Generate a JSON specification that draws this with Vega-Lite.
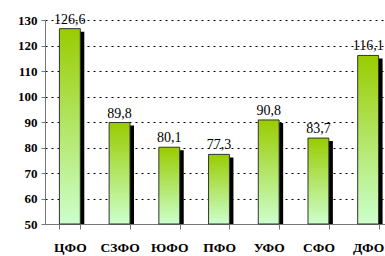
{
  "$schema": "https://vega.github.io/schema/vega-lite/v6.json",
  "autosize": "none",
  "width": 340,
  "height": 204,
  "padding": {"left": 45, "top": 20, "right": 0, "bottom": 32},
  "background": "white",
  "config": {"view": {"stroke": null}, "font": "'Liberation Serif', 'Times New Roman', serif"},
  "data": {"values": [
    {"region": "ЦФО", "value": 126.6, "label": "126,6"},
    {"region": "СЗФО", "value": 89.8, "label": "89,8"},
    {"region": "ЮФО", "value": 80.1, "label": "80,1"},
    {"region": "ПФО", "value": 77.3, "label": "77,3"},
    {"region": "УФО", "value": 90.8, "label": "90,8"},
    {"region": "СФО", "value": 83.7, "label": "83,7"},
    {"region": "ДФО", "value": 116.1, "label": "116,1"}
  ]},
  "encoding": {
    "x": {"field": "region", "type": "nominal", "sort": null,
      "scale": {"range": [0, 348], "paddingInner": 0.58, "paddingOuter": 0.29},
      "axis": {"title": null, "labelAngle": 0, "labelFont": "'Liberation Serif', 'Times New Roman', serif", "labelFontSize": 13.5, "labelFontWeight": "bold", "labelColor": "#000", "labelPadding": 11, "domainColor": "#777", "tickColor": "#777", "tickSize": 5, "tickBand": "extent", "labelLimit": 0}},
    "y": {"field": "value", "type": "quantitative",
      "scale": {"domain": [50, 130], "zero": false, "nice": false},
      "axis": {"title": null, "values": [50, 60, 70, 80, 90, 100, 110, 120, 130], "labelFont": "'Liberation Serif', 'Times New Roman', serif", "labelFontSize": 13, "labelFontWeight": "bold", "labelColor": "#000", "labelPadding": 4, "domainColor": "#777", "tickColor": "#777", "tickSize": 4, "grid": true, "gridColor": "#000", "gridDash": [2, 4], "gridWidth": 1}}
  },
  "layer": [
    {"mark": {"type": "bar", "color": "#000", "xOffset": 4, "yOffset": 3, "y2Offset": 0},
      "encoding": {"y2": {"datum": 50}}},
    {"mark": {"type": "bar", "stroke": "#333", "strokeWidth": 1,
      "color": {"gradient": "linear", "x1": 0, "y1": 0, "x2": 0, "y2": 1,
        "stops": [{"offset": 0, "color": "#99CC00"}, {"offset": 1, "color": "#CCFFCC"}]}},
      "encoding": {"y2": {"datum": 50}}},
    {"mark": {"type": "text", "baseline": "bottom", "dy": -2, "font": "'Liberation Serif', 'Times New Roman', serif", "fontSize": 14, "color": "#000"},
      "encoding": {"text": {"field": "label"}}}
  ]
}
